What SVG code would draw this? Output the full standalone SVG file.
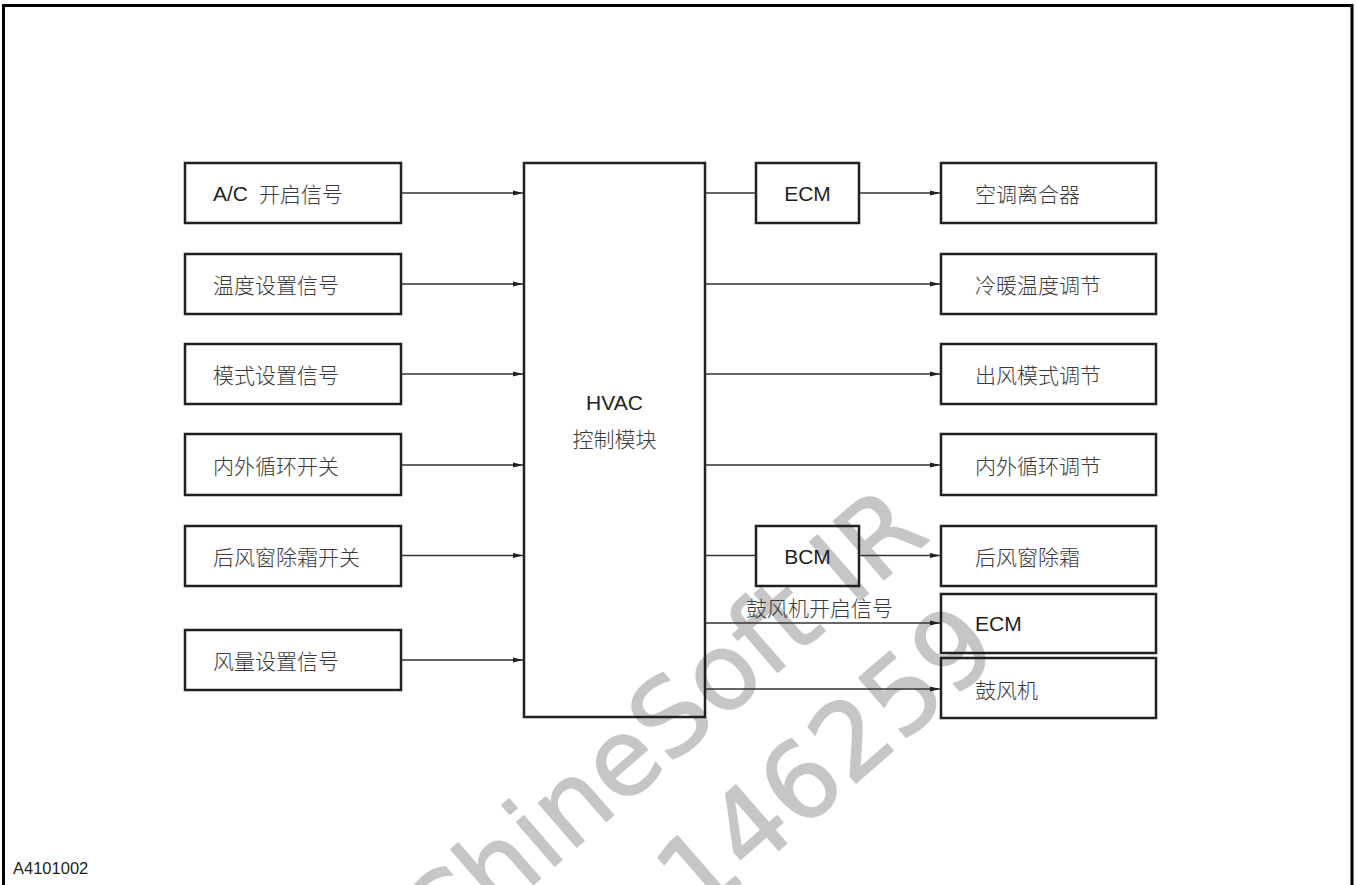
<svg xmlns="http://www.w3.org/2000/svg" width="1357" height="885" viewBox="0 0 1357 885">
<style>
.box{fill:none;stroke:#231f20;stroke-width:2.5}
.cn{font-family:"Noto Sans CJK SC","Noto Sans",sans-serif;font-size:21px;font-weight:300;fill:#3a3a3a;dominant-baseline:central}
.lt{font-family:"Liberation Sans",Arial,sans-serif;font-size:21px;fill:#231f20;dominant-baseline:central}
.ln{fill:none;stroke:#333;stroke-width:1.3}
.wm{font-family:"DejaVu Sans",sans-serif;font-size:106px;fill:#c6c6c6;stroke:#c6c6c6;stroke-width:1.5;stroke-linejoin:round}
</style>
<defs>
<marker id="ah" markerWidth="10" markerHeight="6" refX="10" refY="3" orient="auto" markerUnits="userSpaceOnUse">
<path d="M0,0.6 L10,3 L0,5.4 Z" fill="#231f20"/>
</marker>
</defs>
<rect width="1357" height="885" fill="#fff"/>
<g id="watermark" transform="translate(667,718) rotate(-41)">
<text class="wm" x="-333" y="38">ChineSoft IR</text>
<text class="wm" x="-110" y="173">146259</text>
</g>
<path id="frame" d="M3.5,885 V5.5 H1352 V885" fill="none" stroke="#000" stroke-width="3"/>
<g id="in-ac"><rect class="box" x="185" y="163" width="216" height="60"/><text class="lt" x="213" y="193">A/C</text><text class="cn" x="259" y="193">开启信号</text></g>
<g id="in-temp"><rect class="box" x="185" y="254" width="216" height="60"/><text class="cn" x="213" y="284">温度设置信号</text></g>
<g id="in-mode"><rect class="box" x="185" y="344" width="216" height="60"/><text class="cn" x="213" y="374">模式设置信号</text></g>
<g id="in-recirc"><rect class="box" x="185" y="434" width="216" height="61"/><text class="cn" x="213" y="465">内外循环开关</text></g>
<g id="in-defrost"><rect class="box" x="185" y="526" width="216" height="60"/><text class="cn" x="213" y="556">后风窗除霜开关</text></g>
<g id="in-fan"><rect class="box" x="185" y="630" width="216" height="60"/><text class="cn" x="213" y="660">风量设置信号</text></g>
<g id="hvac"><rect class="box" x="524" y="163" width="181" height="554"/><text class="lt" x="614.5" y="402" text-anchor="middle">HVAC</text><text class="cn" x="614.5" y="438" text-anchor="middle">控制模块</text></g>
<g id="ecm1"><rect class="box" x="756" y="163" width="103" height="60"/><text class="lt" x="807.5" y="193" text-anchor="middle">ECM</text></g>
<g id="bcm"><rect class="box" x="756" y="526" width="103" height="60"/><text class="lt" x="807.5" y="556" text-anchor="middle">BCM</text></g>
<g id="out-clutch"><rect class="box" x="941" y="163" width="215" height="60"/><text class="cn" x="975" y="193">空调离合器</text></g>
<g id="out-temp"><rect class="box" x="941" y="254" width="215" height="60"/><text class="cn" x="975" y="284">冷暖温度调节</text></g>
<g id="out-mode"><rect class="box" x="941" y="344" width="215" height="60"/><text class="cn" x="975" y="374">出风模式调节</text></g>
<g id="out-recirc"><rect class="box" x="941" y="434" width="215" height="61"/><text class="cn" x="975" y="465">内外循环调节</text></g>
<g id="out-defrost"><rect class="box" x="941" y="526" width="215" height="60"/><text class="cn" x="975" y="556">后风窗除霜</text></g>
<g id="ecm2"><rect class="box" x="941" y="594" width="215" height="59"/><text class="lt" x="975" y="623">ECM</text></g>
<g id="blower"><rect class="box" x="941" y="658" width="215" height="60"/><text class="cn" x="975" y="689">鼓风机</text></g>
<g id="connectors">
<line class="ln" x1="401" y1="193" x2="523" y2="193" marker-end="url(#ah)"/>
<line class="ln" x1="401" y1="284" x2="523" y2="284" marker-end="url(#ah)"/>
<line class="ln" x1="401" y1="374" x2="523" y2="374" marker-end="url(#ah)"/>
<line class="ln" x1="401" y1="465" x2="523" y2="465" marker-end="url(#ah)"/>
<line class="ln" x1="401" y1="555.5" x2="523" y2="555.5" marker-end="url(#ah)"/>
<line class="ln" x1="401" y1="660" x2="523" y2="660" marker-end="url(#ah)"/>
<line class="ln" x1="705" y1="193" x2="756" y2="193"/>
<line class="ln" x1="859" y1="193" x2="940" y2="193" marker-end="url(#ah)"/>
<line class="ln" x1="705" y1="284" x2="940" y2="284" marker-end="url(#ah)"/>
<line class="ln" x1="705" y1="374" x2="940" y2="374" marker-end="url(#ah)"/>
<line class="ln" x1="705" y1="465" x2="940" y2="465" marker-end="url(#ah)"/>
<line class="ln" x1="705" y1="555.5" x2="756" y2="555.5"/>
<line class="ln" x1="859" y1="555.5" x2="940" y2="555.5" marker-end="url(#ah)"/>
<line class="ln" x1="705" y1="623" x2="940" y2="623" marker-end="url(#ah)"/>
<text class="cn" x="746" y="607">鼓风机开启信号</text>
<line class="ln" x1="705" y1="689" x2="940" y2="689" marker-end="url(#ah)"/>
</g>
<text id="fig-id" x="13" y="868" font-family="Liberation Sans, Arial, sans-serif" font-size="16.5" fill="#231f20" dominant-baseline="central">A4101002</text>
</svg>
